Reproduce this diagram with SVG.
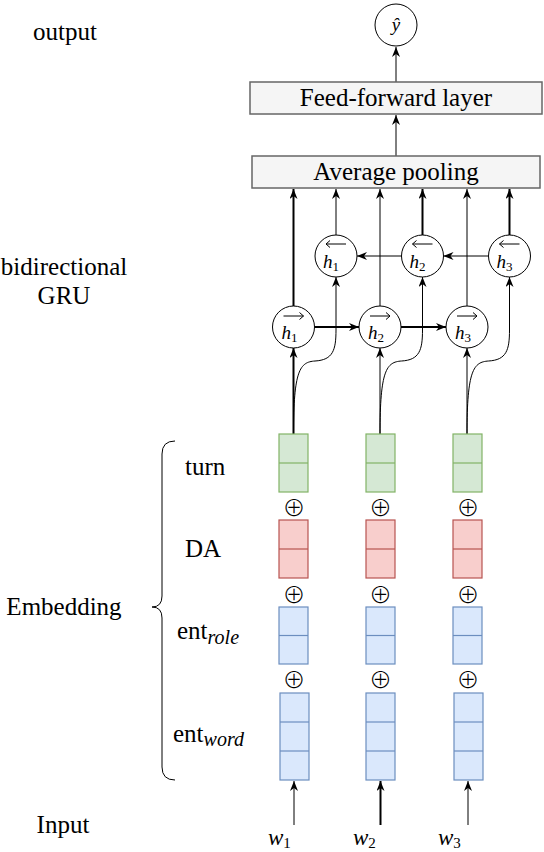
<svg xmlns="http://www.w3.org/2000/svg" xmlns:xlink="http://www.w3.org/1999/xlink" width="544" height="852" viewBox="0 0 544 852" font-family="'Liberation Serif', 'DejaVu Serif', serif">
<style>
  text { font-family: "Liberation Serif", "DejaVu Serif", serif; fill: #000; }
  .lbl { font-size: 25px; }
  .sub { font-size: 20px; font-style: italic; }
  .math { font-size: 19px; font-style: italic; }
  .msub { font-size: 13px; font-style: normal; }
  .wlab { font-size: 23px; font-style: italic; }
  .wsub { font-size: 15px; font-style: normal; }
  .oplus { font-family: "Noto Sans CJK SC", "DejaVu Sans", sans-serif; font-size: 23px; font-weight: 300; }
  .node { fill: #fff; stroke: #000; stroke-width: 1; }
  .layer { fill: #f5f5f5; stroke: #666666; stroke-width: 1.5; }
  .green { fill: #d5e8d4; stroke: #82b366; stroke-width: 1.2; }
  .red { fill: #f8cecc; stroke: #b85450; stroke-width: 1.2; }
  .blue { fill: #dae8fc; stroke: #6c8ebf; stroke-width: 1.2; }
  .conn { fill: none; stroke: #000; stroke-width: 1; marker-end: url(#arr); }
  .thick { stroke-width: 2; }
  .plain { fill: none; stroke: #000; stroke-width: 1; }
  .vec { fill: none; stroke: #000; stroke-width: 1; }
</style>
<defs>
  <marker id="arr" viewBox="0 0 10 8" refX="10" refY="4" markerWidth="10" markerHeight="8" markerUnits="userSpaceOnUse" orient="auto">
    <path d="M0,0 L10,4 L0,8 L3,4 Z" fill="#000"/>
  </marker>
  <path id="rarrow" class="vec" d="M-10,0 L10,0 M6,-3.5 L10,0 L6,3.5"/>
  <path id="larrow" class="vec" d="M10,0 L-10,0 M-6,-3.5 L-10,0 L-6,3.5"/>
</defs>

<!-- side labels -->
<g id="labels">
  <text class="lbl" x="65" y="40" text-anchor="middle">output</text>
  <text class="lbl" x="64" y="275" text-anchor="middle">bidirectional</text>
  <text class="lbl" x="64" y="304" text-anchor="middle">GRU</text>
  <text class="lbl" x="64" y="615" text-anchor="middle">Embedding</text>
  <text class="lbl" x="63" y="833" text-anchor="middle">Input</text>
  <text class="lbl" x="185" y="475">turn</text>
  <text class="lbl" x="185" y="557">DA</text>
  <text class="lbl" x="177" y="639">ent<tspan class="sub" dy="5">role</tspan></text>
  <text class="lbl" x="173" y="742">ent<tspan class="sub" dy="4">word</tspan></text>
  <path id="brace" class="plain" stroke-width="1.5" d="M175,441 Q162,441 162,454 L162,596 Q162,607 152,607 Q162,607 162,618 L162,767 Q162,780 175,780"/>
</g>

<!-- connectors -->
<g id="connectors">
  <path class="conn" d="M396,82 L396,47"/>
  <path class="conn" d="M396,156 L396,115"/>
  <path class="conn thick" d="M293.5,306 L293.5,189"/>
  <path class="conn" d="M336,235 L336,189"/>
  <path class="conn" d="M380,306 L380,189"/>
  <path class="conn thick" d="M422.5,235 L422.5,189"/>
  <path class="conn" d="M467,306 L467,189"/>
  <path class="conn thick" d="M509.5,235 L509.5,189"/>
  <path class="conn thick" d="M314.5,327 L359,327"/>
  <path class="conn thick" d="M401,327 L446,327"/>
  <path class="conn" d="M488.5,256 L443.5,256"/>
  <path class="conn" d="M401.5,256 L357,256"/>
  <path class="conn thick" d="M293.5,434 L293.5,348"/>
  <path class="conn" d="M380,434 L380,348"/>
  <path class="conn" d="M467,434 L467,348"/>
  <path class="conn" d="M293.5,434 C293.5,370 300,362 315,361 C333,360 336,350 336,330 L336,277"/>
  <path class="conn" d="M380,434 C380,370 386.5,362 401.5,361 C419.5,360 422.5,350 422.5,330 L422.5,277"/>
  <path class="conn" d="M467,434 C467,370 473.5,362 488.5,361 C506.5,360 509.5,350 509.5,330 L509.5,277"/>
  <path class="conn" d="M294,825 L294,781"/>
  <path class="conn thick" d="M380.5,825 L380.5,781"/>
  <path class="conn" d="M468,825 L468,781"/>
</g>

<g id="feedforward">
  <rect class="layer" x="250" y="82" width="292" height="32"/>
  <text class="lbl" x="396" y="106" text-anchor="middle">Feed-forward layer</text>
</g>
<g id="pooling">
  <rect class="layer" x="252" y="156" width="288" height="32"/>
  <text class="lbl" x="396" y="180" text-anchor="middle">Average pooling</text>
</g>
<g id="yhat">
  <circle class="node" cx="396" cy="25" r="21"/>
  <text class="math" x="396" y="31" text-anchor="middle">ŷ</text>
</g>

<g id="hb1">
  <circle class="node" cx="336" cy="256" r="21"/>
  <use xlink:href="#larrow" x="336" y="244"/>
  <text class="math" x="323" y="268">h<tspan class="msub" dy="3">1</tspan></text>
</g>
<g id="hb2">
  <circle class="node" cx="422.5" cy="256" r="21"/>
  <use xlink:href="#larrow" x="422.5" y="244"/>
  <text class="math" x="409.5" y="268">h<tspan class="msub" dy="3">2</tspan></text>
</g>
<g id="hb3">
  <circle class="node" cx="509.5" cy="256" r="21"/>
  <use xlink:href="#larrow" x="509.5" y="244"/>
  <text class="math" x="496.5" y="268">h<tspan class="msub" dy="3">3</tspan></text>
</g>
<g id="hf1">
  <circle class="node" cx="293.5" cy="327" r="21"/>
  <use xlink:href="#rarrow" x="293.5" y="316"/>
  <text class="math" x="281.5" y="339">h<tspan class="msub" dy="3">1</tspan></text>
</g>
<g id="hf2">
  <circle class="node" cx="380" cy="327" r="21"/>
  <use xlink:href="#rarrow" x="380" y="316"/>
  <text class="math" x="368" y="339">h<tspan class="msub" dy="3">2</tspan></text>
</g>
<g id="hf3">
  <circle class="node" cx="467" cy="327" r="21"/>
  <use xlink:href="#rarrow" x="467" y="316"/>
  <text class="math" x="455" y="339">h<tspan class="msub" dy="3">3</tspan></text>
</g>

<g id="col1">
  <rect class="green" x="279" y="434" width="29" height="58"/>
  <line class="green" x1="279" y1="463" x2="308" y2="463"/>
  <text class="oplus" x="294" y="506" text-anchor="middle" dominant-baseline="central">⊕</text>
  <rect class="red" x="279" y="520" width="29" height="58"/>
  <line class="red" x1="279" y1="549" x2="308" y2="549"/>
  <text class="oplus" x="294" y="593" text-anchor="middle" dominant-baseline="central">⊕</text>
  <rect class="blue" x="279" y="607" width="29" height="57"/>
  <line class="blue" x1="279" y1="635.5" x2="308" y2="635.5"/>
  <text class="oplus" x="294" y="678" text-anchor="middle" dominant-baseline="central">⊕</text>
  <rect class="blue" x="280" y="693" width="29" height="87"/>
  <line class="blue" x1="280" y1="722" x2="309" y2="722"/>
  <line class="blue" x1="280" y1="751" x2="309" y2="751"/>
</g>
<g id="col2">
  <rect class="green" x="366" y="434" width="29" height="58"/>
  <line class="green" x1="366" y1="463" x2="395" y2="463"/>
  <text class="oplus" x="380.5" y="506" text-anchor="middle" dominant-baseline="central">⊕</text>
  <rect class="red" x="366" y="520" width="29" height="58"/>
  <line class="red" x1="366" y1="549" x2="395" y2="549"/>
  <text class="oplus" x="380.5" y="593" text-anchor="middle" dominant-baseline="central">⊕</text>
  <rect class="blue" x="366" y="607" width="29" height="57"/>
  <line class="blue" x1="366" y1="635.5" x2="395" y2="635.5"/>
  <text class="oplus" x="380.5" y="678" text-anchor="middle" dominant-baseline="central">⊕</text>
  <rect class="blue" x="366" y="693" width="29" height="87"/>
  <line class="blue" x1="366" y1="722" x2="395" y2="722"/>
  <line class="blue" x1="366" y1="751" x2="395" y2="751"/>
</g>
<g id="col3">
  <rect class="green" x="453" y="434" width="29" height="58"/>
  <line class="green" x1="453" y1="463" x2="482" y2="463"/>
  <text class="oplus" x="468" y="506" text-anchor="middle" dominant-baseline="central">⊕</text>
  <rect class="red" x="453" y="520" width="29" height="58"/>
  <line class="red" x1="453" y1="549" x2="482" y2="549"/>
  <text class="oplus" x="468" y="593" text-anchor="middle" dominant-baseline="central">⊕</text>
  <rect class="blue" x="453" y="607" width="29" height="57"/>
  <line class="blue" x1="453" y1="635.5" x2="482" y2="635.5"/>
  <text class="oplus" x="468" y="678" text-anchor="middle" dominant-baseline="central">⊕</text>
  <rect class="blue" x="454" y="693" width="29" height="87"/>
  <line class="blue" x1="454" y1="722" x2="483" y2="722"/>
  <line class="blue" x1="454" y1="751" x2="483" y2="751"/>
</g>

<g id="w1"><text class="wlab" x="268" y="845">w<tspan class="wsub" dy="3">1</tspan></text></g>
<g id="w2"><text class="wlab" x="353" y="845">w<tspan class="wsub" dy="3">2</tspan></text></g>
<g id="w3"><text class="wlab" x="438" y="845">w<tspan class="wsub" dy="3">3</tspan></text></g>
</svg>
